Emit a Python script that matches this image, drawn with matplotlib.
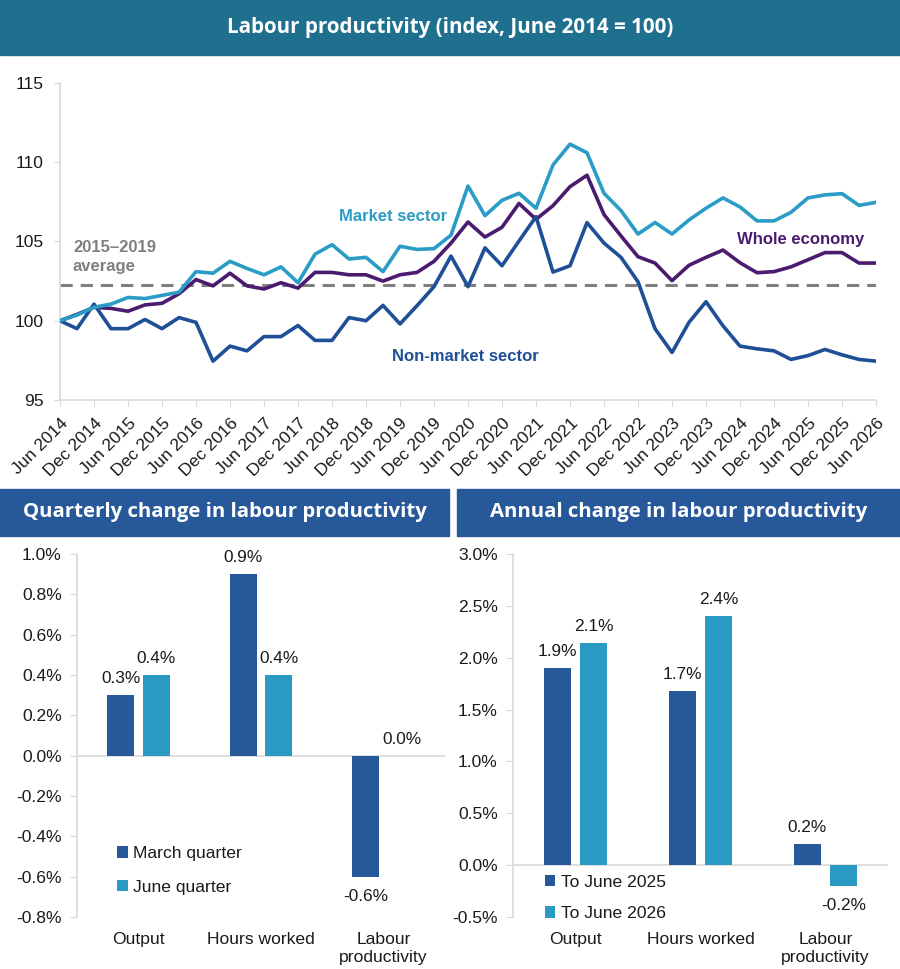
import numpy as np
import matplotlib
matplotlib.use('Agg')
import matplotlib.pyplot as plt
from matplotlib.patches import Rectangle

plt.rcParams['font.family'] = ['Liberation Sans', 'DejaVu Sans']

# quarterly index, Jun 2014 .. Jun 2026
quarters = []
for yr in range(2014, 2027):
    for m in ['Mar', 'Jun', 'Sep', 'Dec']:
        quarters.append(f'{m} {yr}')
quarters = quarters[1:-2]  # Jun 2014 .. Jun 2026

market = [100.0, 100.36, 100.85, 101.05, 101.47, 101.4, 101.6, 101.8, 103.1, 103.0,
          103.75, 103.3, 102.9, 103.4, 102.4, 104.2, 104.8, 103.9, 104.0, 103.1,
          104.7, 104.5, 104.55, 105.4, 108.5, 106.63, 107.6, 108.04, 107.1, 109.83,
          111.14, 110.6, 108.04, 106.95, 105.47, 106.2, 105.47, 106.36, 107.1, 107.75,
          107.18, 106.3, 106.3, 106.84, 107.75, 107.94, 108.02, 107.28, 107.47]
whole = [100.0, 100.4, 100.85, 100.78, 100.6, 101.0, 101.1, 101.7, 102.6, 102.2,
         103.0, 102.2, 102.0, 102.4, 102.06, 103.05, 103.05, 102.9, 102.9, 102.5,
         102.9, 103.05, 103.75, 104.9, 106.23, 105.28, 105.9, 107.4, 106.4, 107.26,
         108.46, 109.18, 106.7, 105.35, 104.04, 103.64, 102.53, 103.5, 104.0, 104.46,
         103.66, 103.03, 103.1, 103.4, 103.85, 104.3, 104.3, 103.64, 103.64]
nonmarket = [100.0, 99.5, 101.05, 99.5, 99.5, 100.08, 99.5, 100.2, 99.9, 97.45,
             98.4, 98.1, 99.0, 99.0, 99.7, 98.76, 98.76, 100.2, 100.0, 100.97,
             99.8, 100.95, 102.15, 104.08, 102.15, 104.6, 103.47, 105.03, 106.57, 103.07,
             103.47, 106.19, 104.9, 104.0, 102.46, 99.5, 98.0, 99.9, 101.2, 99.68,
             98.4, 98.23, 98.1, 97.56, 97.8, 98.19, 97.85, 97.56, 97.45]
avg_2015_2019 = 102.25

categories = ['Output', 'Hours worked', 'Labour\nproductivity']
q_march = [0.3, 0.9, -0.6]
q_june = [0.4, 0.4, 0.0]
a_2025 = [1.9, 1.68, 0.2]
a_2026 = [2.14, 2.4, -0.2]
a_2025_lbl = ['1.9%', '1.7%', '0.2%']
a_2026_lbl = ['2.1%', '2.4%', '-0.2%']

c_market = '#2a9cc6'
c_whole = '#4b1b6f'
c_nonmkt = '#1f4f96'
c_bar1 = '#27589a'
c_bar2 = '#2a9ac2'
c_grid = '#d9d9d9'
c_text = '#1a1a1a'

W, H = 900, 969
fig = plt.figure(figsize=(W / 100, H / 100), dpi=100)


def box(x0, y0, x1, y1):
    # pixel box (top-left origin) -> figure fraction rect
    return [x0 / W, 1 - y1 / H, (x1 - x0) / W, (y1 - y0) / H]


def header(x0, y0, x1, y1, color, text, size):
    fig.add_artist(Rectangle((x0 / W, 1 - y1 / H), (x1 - x0) / W, (y1 - y0) / H,
                             transform=fig.transFigure, color=color, zorder=0))
    fig.text((x0 + x1) / 2 / W, 1 - (y0 + y1) / 2 / H, text, color='white',
             fontsize=size, fontweight='bold', family='Open Sans',
             ha='center', va='center')


header(0, 0, 900, 55, '#1f6f8f', 'Labour productivity (index, June 2014 = 100)', 14.8)
header(0, 489, 449, 536, '#27589a', 'Quarterly change in labour productivity', 14.7)
header(457, 489, 900, 536, '#27589a', 'Annual change in labour productivity', 14.7)

# ---- top line chart
ax = fig.add_axes(box(60, 83, 876, 400))
x = np.arange(len(quarters))
ax.axhline(avg_2015_2019, color='#7f7f7f', lw=2.2, dashes=(4, 2.6), zorder=1)
ax.plot(x, whole, color=c_whole, lw=2.6, zorder=2)
ax.plot(x, nonmarket, color=c_nonmkt, lw=2.6, zorder=3)
ax.plot(x, market, color=c_market, lw=2.6, zorder=4)
ax.set_xlim(0, len(quarters) - 1)
ax.set_ylim(95, 115)
ax.set_yticks([95, 100, 105, 110, 115])
ax.set_xticks(x[::2])
ax.set_xticklabels(quarters[::2], rotation=45, ha='right', rotation_mode='anchor')
for s in ['top', 'right']:
    ax.spines[s].set_visible(False)
for s in ['left', 'bottom']:
    ax.spines[s].set_color(c_grid)
    ax.spines[s].set_linewidth(1.2)
ax.tick_params(axis='y', length=4, color=c_grid, labelsize=12.6, pad=8, labelcolor=c_text)
ax.tick_params(axis='x', length=4, color=c_grid, labelsize=12.6, pad=7, labelcolor=c_text)

ax.text(16.4, 106.6, 'Market sector', color=c_market, fontsize=12, fontweight='bold', va='center')
ax.text(39.8, 105.1, 'Whole economy', color=c_whole, fontsize=12, fontweight='bold', va='center')
ax.text(19.5, 97.73, 'Non-market sector', color=c_nonmkt, fontsize=12, fontweight='bold', va='center')
ax.text(0.76, 104.0, '2015\u20132019\naverage', color='#7f7f7f', fontsize=12,
        fontweight='bold', va='center', linespacing=1.35)


# ---- bar charts
def bar_panel(rect, s1, s2, lbl1, lbl2, names, ylim, yticks, legend_pos, spacing):
    a = fig.add_axes(box(*rect))
    pos = np.arange(len(categories))
    w = 0.22
    a.bar(pos - 0.145, s1, w, color=c_bar1, label=names[0], zorder=2)
    a.bar(pos + 0.145, s2, w, color=c_bar2, label=names[1], zorder=2)
    a.axhline(0, color=c_grid, lw=1.2, zorder=1)
    for xs, vals, lbls in [(pos - 0.145, s1, lbl1), (pos + 0.145, s2, lbl2)]:
        for xi, v, t in zip(xs, vals, lbls):
            off = 12 if v >= 0 else -14
            a.annotate(t, (xi, v), xytext=(0, off), textcoords='offset points',
                       ha='center', va='center', fontsize=12.4, color=c_text)
    a.set_xlim(-0.5, len(categories) - 0.5)
    a.set_ylim(*ylim)
    a.set_yticks(yticks)
    a.set_yticklabels([f'{t:.1f}%' for t in yticks])
    a.set_xticks(pos)
    a.set_xticklabels(categories, linespacing=1.2)
    for s in ['top', 'right', 'bottom']:
        a.spines[s].set_visible(False)
    a.spines['left'].set_color(c_grid)
    a.spines['left'].set_linewidth(1.2)
    a.tick_params(axis='y', length=5, color=c_grid, labelsize=12.6, pad=6, labelcolor=c_text)
    a.tick_params(axis='x', length=0, labelsize=12.6, pad=11, labelcolor=c_text)
    leg = a.legend(loc='upper left', bbox_to_anchor=legend_pos, frameon=False,
                   fontsize=12.6, handlelength=0.6, handleheight=0.6, handletextpad=0.3,
                   labelspacing=spacing, borderaxespad=0, borderpad=0)
    for t in leg.get_texts():
        t.set_color(c_text)
    return a


bar_panel((77, 554, 445, 917), q_march, q_june,
          [f'{v:.1f}%' for v in q_march], [f'{v:.1f}%' for v in q_june],
          ['March quarter', 'June quarter'], (-0.8, 1.0),
          [-0.8, -0.6, -0.4, -0.2, 0.0, 0.2, 0.4, 0.6, 0.8, 1.0], (0.11, 0.195), 1.05)
bar_panel((513, 554, 888, 917), a_2025, a_2026, a_2025_lbl, a_2026_lbl,
          ['To June 2025', 'To June 2026'], (-0.5, 3.0),
          [-0.5, 0.0, 0.5, 1.0, 1.5, 2.0, 2.5, 3.0], (0.085, 0.117), 0.95)

fig.savefig('out.png', dpi=100)
